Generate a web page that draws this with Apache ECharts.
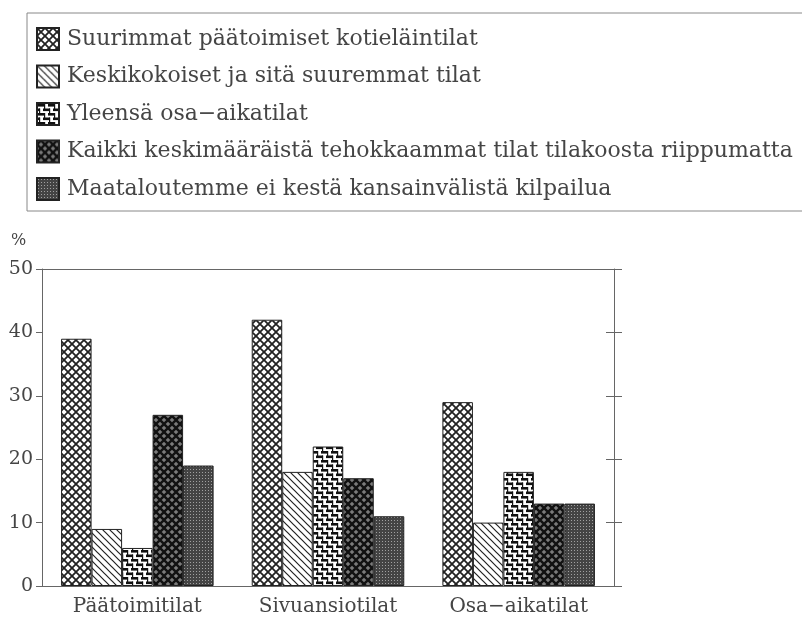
<!DOCTYPE html>
<html>
<head>
<meta charset="utf-8">
<script src="https://cdn.jsdelivr.net/npm/echarts@6/dist/echarts.min.js"></script>
<style>html,body{margin:0;padding:0;background:#fff}#c{width:802px;height:619px}</style>
</head>
<body>
<div id="c"></div>
<script>
var categories = ['Päätoimitilat', 'Sivuansiotilat', 'Osa\u2212aikatilat'];
var seriesNames = [
  'Suurimmat päätoimiset kotieläintilat',
  'Keskikokoiset ja sitä suuremmat tilat',
  'Yleensä osa\u2212aikatilat',
  'Kaikki keskimääräistä tehokkaammat tilat tilakoosta riippumatta',
  'Maataloutemme ei kestä kansainvälistä kilpailua'
];
var s1 = [39, 42, 29];
var s2 = [9, 18, 10];
var s3 = [6, 22, 18];
var s4 = [27, 17, 13];
var s5 = [19, 11, 13];
var yTicks = [0, 10, 20, 30, 40, 50];

function mk(w, h, draw) {
  var c = document.createElement('canvas');
  c.width = w; c.height = h;
  var g = c.getContext('2d');
  draw(g, w, h);
  return { image: c, repeat: 'repeat' };
}
var pat1 = mk(8, 8, function (g, w, h) {
  g.fillStyle = '#fff'; g.fillRect(0, 0, w, h);
  g.strokeStyle = '#222'; g.lineWidth = 1.8;
  g.beginPath();
  g.moveTo(-1, -1); g.lineTo(9, 9);
  g.moveTo(9, -1); g.lineTo(-1, 9);
  g.stroke();
});
var pat2 = mk(7, 7, function (g, w, h) {
  g.fillStyle = '#fff'; g.fillRect(0, 0, w, h);
  g.strokeStyle = '#222'; g.lineWidth = 1.2;
  g.beginPath();
  g.moveTo(-1, -1); g.lineTo(8, 8);
  g.moveTo(-8, -1); g.lineTo(1, 8);
  g.moveTo(6, -1); g.lineTo(15, 8);
  g.stroke();
});
var pat3 = mk(10, 9, function (g, w, h) {
  g.fillStyle = '#fff'; g.fillRect(0, 0, w, h);
  g.fillStyle = '#111';
  g.fillRect(1, 1, 7, 2.6);
  g.fillRect(6, 5.5, 4, 2.6);
  g.fillRect(0, 5.5, 3, 2.6);
  g.fillRect(7, 1, 1.2, 5);
  g.fillRect(2, 5.5, 1.2, 4);
  g.fillRect(2, 0, 1.2, 1);
});
var pat4 = mk(8, 8, function (g, w, h) {
  g.fillStyle = '#111'; g.fillRect(0, 0, w, h);
  g.fillStyle = '#7a7a7a';
  function dia(x, y) {
    g.beginPath();
    g.moveTo(x, y - 2.3); g.lineTo(x + 2.3, y); g.lineTo(x, y + 2.3); g.lineTo(x - 2.3, y);
    g.closePath(); g.fill();
  }
  dia(0, 0); dia(8, 0); dia(0, 8); dia(8, 8); dia(4, 4);
});
var pat5 = mk(3, 3, function (g, w, h) {
  g.fillStyle = '#444'; g.fillRect(0, 0, w, h);
  g.fillStyle = '#a0a0a0'; g.fillRect(1, 1, 1, 1);
});
var pats = [pat1, pat2, pat3, pat4, pat5];
var datas = [s1, s2, s3, s4, s5];

var FONT = 'DejaVu Serif';
var TXT = '#454545';
var LINE = '#666';

var series = seriesNames.map(function (n, i) {
  return {
    name: n, type: 'bar', data: datas[i],
    barGap: '0%', barCategoryGap: '20%',
    itemStyle: { color: pats[i], borderColor: '#222', borderWidth: 1 }
  };
});

var chart = echarts.init(document.getElementById('c'), null, { renderer: 'canvas' });
chart.setOption({
  animation: false,
  backgroundColor: '#fff',
  title: { text: '%', left: 11, top: 233, padding: 0, textStyle: { fontFamily: FONT, fontSize: 16, fontWeight: 'normal', color: TXT } },
  legend: {
    orient: 'vertical', left: 27, top: 13,
    padding: [14, 60, 10, 9],
    borderColor: '#888', borderWidth: 1,
    itemWidth: 22, itemHeight: 22, itemGap: 13.5,
    icon: 'rect',
    textStyle: { fontFamily: FONT, fontSize: 22, color: TXT, padding: [0, 0, 0, 3] },
    data: seriesNames
  },
  grid: { left: 42, right: 188, top: 269, bottom: 33 },
  xAxis: [{
    type: 'category', data: categories,
    axisLine: { onZero: false, lineStyle: { color: LINE, width: 1 } },
    axisTick: { show: false },
    axisLabel: { fontFamily: FONT, fontSize: 20, color: TXT, margin: 11 }
  }, {
    type: 'category', data: categories, position: 'top',
    axisLine: { onZero: false, lineStyle: { color: LINE, width: 1 } },
    axisTick: { show: false }, axisLabel: { show: false }
  }],
  yAxis: [{
    type: 'value', min: 0, max: 50, interval: 10,
    axisLine: { show: true, lineStyle: { color: LINE } },
    axisTick: { show: true, length: 6, lineStyle: { color: LINE } },
    splitLine: { show: false },
    axisLabel: { fontFamily: FONT, fontSize: 19, color: TXT, margin: 9 }
  }, {
    type: 'value', min: 0, max: 50, interval: 10, position: 'right',
    axisLine: { show: true, lineStyle: { color: LINE } },
    axisTick: { show: true, inside: true, length: 8, lineStyle: { color: LINE } },
    splitLine: { show: false }, axisLabel: { show: false }
  }, {
    type: 'value', min: 0, max: 50, interval: 10, position: 'right',
    axisLine: { show: false },
    axisTick: { show: true, inside: false, length: 8, lineStyle: { color: LINE } },
    splitLine: { show: false }, axisLabel: { show: false }
  }],
  series: series
});
</script>
</body>
</html>
